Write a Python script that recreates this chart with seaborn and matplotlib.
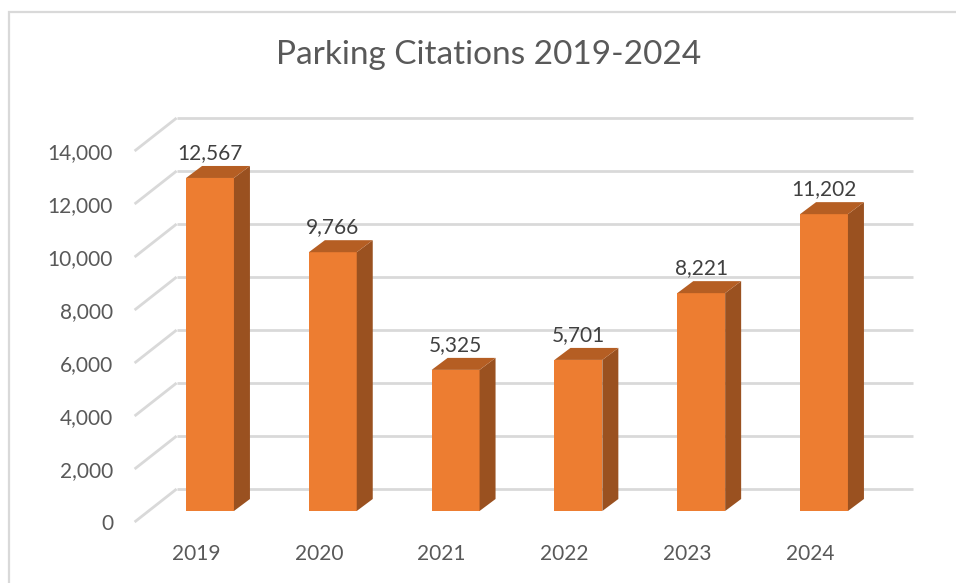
import matplotlib
matplotlib.use("Agg")
import matplotlib.pyplot as plt
import seaborn as sns
import pandas as pd
from matplotlib.patches import Polygon, Rectangle
from matplotlib.transforms import ScaledTranslation

years = ["2019", "2020", "2021", "2022", "2023", "2024"]
citations = [12567, 9766, 5325, 5701, 8221, 11202]
y_ticks = [0, 2000, 4000, 6000, 8000, 10000, 12000, 14000]
title = "Parking Citations 2019-2024"

sns.set_theme(style="white")
plt.rcParams["font.family"] = ["Lato", "DejaVu Sans"]

W, H, DPI = 956, 583, 100
fig = plt.figure(figsize=(W / DPI, H / DPI), dpi=DPI)
fig.patch.set_facecolor("white")

# axes = front plane of the bars (pixels: x 148.6..885.4, y 511..140)
ax = fig.add_axes([148.6 / W, (H - 511) / H, (885.4 - 148.6) / W, (511 - 140) / H])

df = pd.DataFrame({"year": years, "citations": citations})
front = "#ED7D31"
side = "#9A5120"
top = "#B55E23"
sns.barplot(data=df, x="year", y="citations", color=front, width=0.39,
            saturation=1, ax=ax, zorder=3, edgecolor="none")
ax.set_xlim(-0.5, 5.5)
ax.set_ylim(0, 14000)

px_x = (885.4 - 148.6) / 6.0
px_y = (511 - 140) / 14000.0

def off(dxp, dyp):
    return dxp / px_x, dyp / px_y

# back wall gridlines and floor diagonals
bwx, bwy = off(28, 22)
fx, fy = off(-14, -11)
grid_c = "#D9D9D9"
for v in y_ticks:
    ax.plot([-0.5 + bwx, 5.5 + bwx], [v + bwy, v + bwy], color=grid_c,
            lw=2.0, zorder=1, clip_on=False, solid_capstyle="butt")
    ax.plot([-0.5 + fx, -0.5 + bwx], [v + fy, v + bwy], color=grid_c,
            lw=2.0, zorder=1, clip_on=False, solid_capstyle="butt")

# 3D side and top faces of bars
bdx, bdy = off(16, 12)
half = 0.39 / 2
for i, v in enumerate(citations):
    xl, xr = i - half, i + half
    ax.add_patch(Polygon([(xr, 0), (xr + bdx, bdy), (xr + bdx, v + bdy), (xr, v)],
                         closed=True, facecolor=side, edgecolor="none",
                         zorder=3, clip_on=False))
    ax.add_patch(Polygon([(xl, v), (xr, v), (xr + bdx, v + bdy), (xl + bdx, v + bdy)],
                         closed=True, facecolor=top, edgecolor="none",
                         zorder=3, clip_on=False))
    ax.annotate(f"{v:,}", xy=(i, v), xytext=(0, 25), textcoords="offset pixels",
                ha="center", va="center", fontsize=15, color="#404040",
                annotation_clip=False, zorder=5)

for s in ax.spines.values():
    s.set_visible(False)
ax.grid(False)
ax.set_xlabel("")
ax.set_ylabel("")
ax.set_yticks(y_ticks)
ax.set_yticklabels([f"{t:,}" for t in y_ticks])
ax.tick_params(axis="both", length=0, labelsize=15, labelcolor="#595959")
ax.tick_params(axis="y", pad=15.5)
ax.tick_params(axis="x", pad=16)

shift = ScaledTranslation(-14 / DPI, -11 / DPI, fig.dpi_scale_trans)
for lab in ax.get_xticklabels() + ax.get_yticklabels():
    lab.set_transform(lab.get_transform() + shift)

fig.text(489 / W, 1 - 55 / H, title, ha="center", va="center",
         fontsize=24, color="#595959")

# chart border (cropped on right and bottom)
fig.add_artist(Rectangle((8.5 / W, -0.1), 1.2, 1 - 12.5 / H + 0.1,
                         transform=fig.transFigure, fill=False,
                         edgecolor="#D9D9D9", lw=1.6))

fig.savefig("out.png", dpi=DPI, facecolor="white")
